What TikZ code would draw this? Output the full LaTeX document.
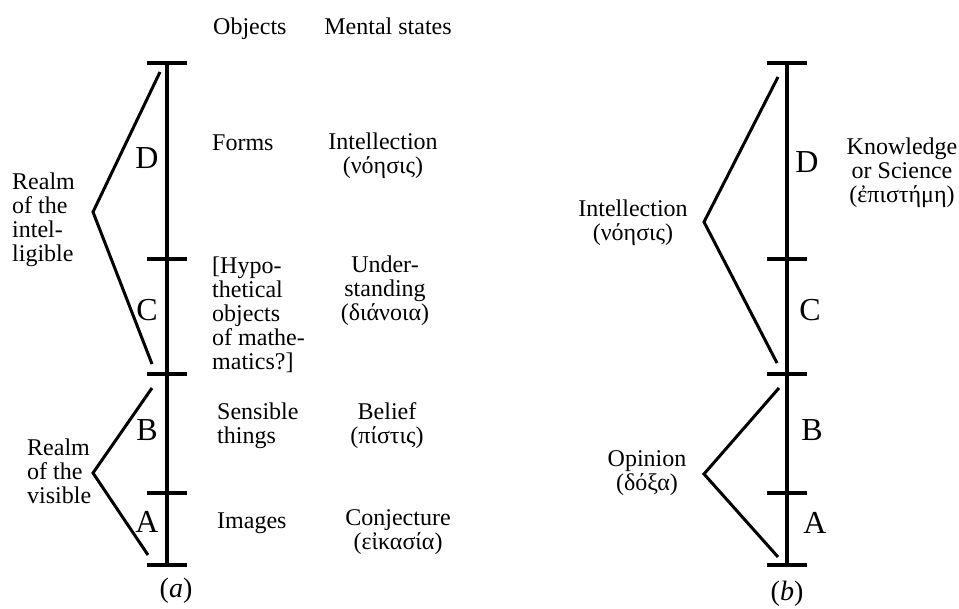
\documentclass[tikz,border=0pt]{standalone}
\usepackage{fontspec}
\setmainfont{Liberation Serif}
\usepackage{tikz}
\usetikzlibrary{positioning}

\begin{document}
\begin{tikzpicture}[
        x=1pt, y=-1pt,
        bar/.style={line width=4pt},
        tick/.style={line width=4.5pt},
        bracket/.style={line width=3pt},
        segment/.style={font=\fontsize{32}{32}\selectfont, inner sep=0pt},
        entry/.style={font=\fontsize{24}{24}\selectfont, inner sep=0pt, align=center},
        left entry/.style={entry, align=left, anchor=west},
        caption/.style={font=\fontsize{28}{28}\selectfont, inner sep=0pt}
    ]
        \useasboundingbox (0,0) rectangle (959,609);

        % Lines and their divisions
        \foreach \side/\x in {a/167, b/787}
        {
            \foreach \i/\y in {0/63, 1/259, 2/374, 3/493, 4/565}
            {
                \coordinate (\side-\i) at (\x,\y);
                \draw[tick] ([xshift=-20pt]\side-\i) -- ([xshift=20pt]\side-\i);
            }
            \draw[bar] (\side-0) -- (\side-4);
        }

        % Segment letters
        \foreach \name/\y in {D/158, C/310, B/430, A/522}
        {
            \node[segment] (a-\name) at (147,\y) {\name};
        }
        \foreach \name/\x/\y in {D/807/162, C/810/310, B/812/430, A/815/523}
        {
            \node[segment] (b-\name) at (\x,\y) {\name};
        }

        % Brackets of (a)
        \coordinate (intelligible-top) at (160,72);
        \coordinate (intelligible-tip) at (93,212);
        \coordinate (intelligible-bot) at (152,364);
        \coordinate (visible-top) at (152,388);
        \coordinate (visible-tip) at (93,473);
        \coordinate (visible-bot) at (148,555);
        \draw[bracket] (intelligible-top) -- (intelligible-tip) -- (intelligible-bot);
        \draw[bracket] (visible-top) -- (visible-tip) -- (visible-bot);

        % Brackets of (b)
        \coordinate (noesis-top) at (778,77);
        \coordinate (noesis-tip) at (704,222);
        \coordinate (noesis-bot) at (777,363);
        \coordinate (doxa-top) at (779,388);
        \coordinate (doxa-tip) at (704,474);
        \coordinate (doxa-bot) at (778,557);
        \draw[bracket] (noesis-top) -- (noesis-tip) -- (noesis-bot);
        \draw[bracket] (doxa-top) -- (doxa-tip) -- (doxa-bot);

        % Realms
        \node[left entry] (realm-intelligible) at (12,220) {Realm\\of the\\intel-\\ligible};
        \node[left entry] (realm-visible) at (27,471) {Realm\\of the\\visible};

        % Headings
        \node[entry, anchor=base west] (objects) at (213,35) {Objects};
        \node[entry, anchor=base] (mental) at (388,35) {Mental states};

        % Objects
        \node[entry, anchor=base west] (forms) at (212,151) {Forms};
        \node[left entry] (hypothetical) at (212,315) {[Hypo-\\thetical\\objects\\of mathe-\\matics?]};
        \node[left entry] (sensible) at (217,426) {Sensible\\things};
        \node[entry, anchor=base west] (images) at (217,528) {Images};

        % Mental states
        \node[entry] (intellection) at (383,156) {Intellection\\(νόησις)};
        \node[entry] (understanding) at (385,291) {Under-\\standing\\(διάνοια)};
        \node[entry] (belief) at (387,426) {Belief\\(πίστις)};
        \node[entry] (conjecture) at (398,532) {Conjecture\\(εἰκασία)};

        % Labels of (b)
        \node[entry] (knowledge) at (902,173) {Knowledge\\or Science\\(ἐπιστήμη)};
        \node[entry] (noesis) at (633,223) {Intellection\\(νόησις)};
        \node[entry] (doxa) at (647,473) {Opinion\\(δόξα)};

        % Captions
        \node[caption] (a-caption) at (176,591) {(\textit{a})};
        \node[caption] (b-caption) at (787,594) {(\textit{b})};

    \end{tikzpicture}
\end{document}
